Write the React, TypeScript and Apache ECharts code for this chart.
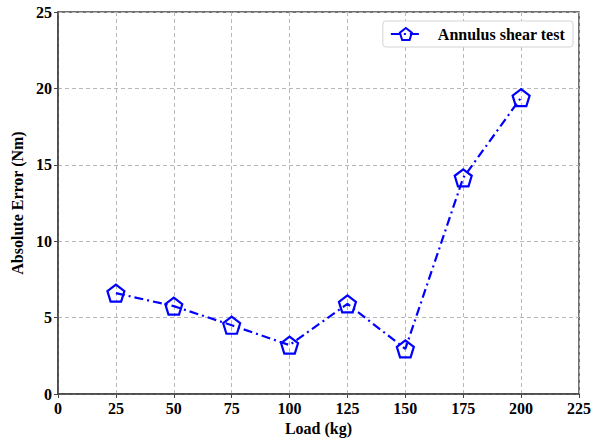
import React, { useEffect, useRef } from "react";
import * as echarts from "echarts";

const loads = [25, 50, 75, 100, 125, 150, 175, 200];
const absErrors = [6.6, 5.75, 4.5, 3.2, 5.9, 2.95, 14.15, 19.4];
const seriesName = "Annulus shear test";
const xTitle = "Load (kg)";
const yTitle = "Absolute Error (Nm)";

const FONT = "'Liberation Serif', 'Times New Roman', serif";
const pentagon =
  "path://M0,-1 L0.9511,-0.309 L0.5878,0.809 L-0.5878,0.809 L-0.9511,-0.309 Z";

export default function App() {
  const ref = useRef<HTMLDivElement>(null);
  useEffect(() => {
    if (!ref.current) return;
    const chart = echarts.init(ref.current, undefined, { renderer: "svg" });
    const axisLabel = {
      fontFamily: FONT,
      fontWeight: "bold" as const,
      fontSize: 16,
      color: "#000",
    };
    const splitLine = {
      show: true,
      lineStyle: { color: "#b8b8b8", type: [4, 3] as any, width: 1 },
    };
    const nameStyle = { fontFamily: FONT, fontWeight: "bold" as const, fontSize: 16, color: "#000" };
    chart.setOption({
      animation: false,
      backgroundColor: "#fff",
      grid: {
        left: 58,
        right: 14,
        top: 12,
        bottom: 50,
        show: true,
        borderColor: "#444",
        borderWidth: 1.5,
        backgroundColor: "transparent",
      },
      legend: {
        right: 21,
        top: 21,
        orient: "vertical",
        itemWidth: 30,
        itemHeight: 15,
        padding: [5, 8, 5, 7],
        borderColor: "#d4d4d4",
        borderWidth: 1,
        borderRadius: 3,
        backgroundColor: "#fff",
        textStyle: {
          fontFamily: FONT,
          fontWeight: "bold",
          fontSize: 16,
          color: "#000",
          padding: [0, 0, 0, 12],
        },
        data: [seriesName],
      },
      xAxis: {
        type: "value",
        min: 0,
        max: 225,
        interval: 25,
        name: xTitle,
        nameLocation: "middle",
        nameGap: 25,
        nameTextStyle: nameStyle,
        axisLine: { show: true, onZero: false, lineStyle: { color: "#444", width: 1.5 } },
        axisTick: { show: true, length: 4, lineStyle: { color: "#444" } },
        axisLabel: { ...axisLabel, margin: 6 },
        splitLine,
      },
      yAxis: {
        type: "value",
        min: 0,
        max: 25,
        interval: 5,
        name: yTitle,
        nameLocation: "middle",
        nameGap: 28,
        nameTextStyle: nameStyle,
        axisLine: { show: true, onZero: false, lineStyle: { color: "#444", width: 1.5 } },
        axisTick: { show: true, length: 4, lineStyle: { color: "#444" } },
        axisLabel: { ...axisLabel, margin: 6 },
        splitLine,
      },
      series: [
        {
          name: seriesName,
          type: "line",
          data: loads.map((l, i) => [l, absErrors[i]]),
          symbol: pentagon,
          symbolSize: 17,
          showAllSymbol: true,
          itemStyle: { color: "rgba(255,255,255,0)", borderColor: "#0000ff", borderWidth: 2.2 },
          lineStyle: { color: "#0000ff", width: 2.2, type: [9, 4, 2, 4] as any },
          z: 3,
        },
      ],
    });
    return () => chart.dispose();
  }, []);
  return (
    <div
      ref={ref}
      style={{ width: 594, height: 444, position: "absolute", left: 0, top: 0 }}
    />
  );
}
